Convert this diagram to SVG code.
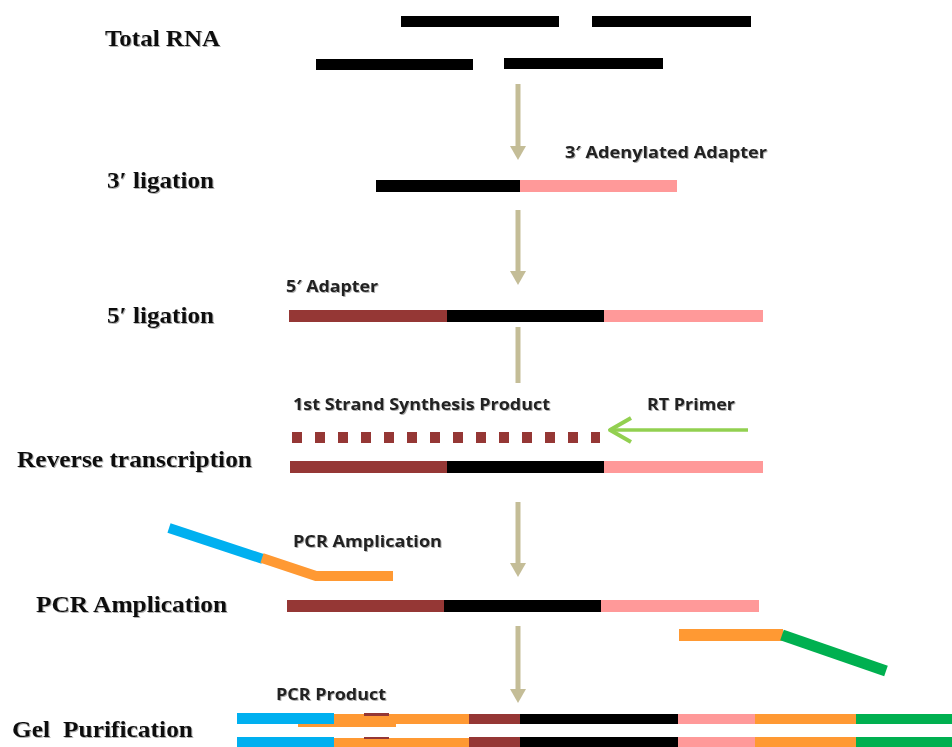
<svg xmlns="http://www.w3.org/2000/svg" width="952" height="747" viewBox="0 0 952 747">
<style>
.lbl{font-family:"Liberation Serif","Times New Roman",serif;font-weight:bold;font-size:23px;fill:#111;filter:url(#sh)}
.sm{font-family:"Open Sans","Liberation Sans",Arial,sans-serif;font-weight:bold;font-size:15.5px;fill:#222;filter:url(#sh)}
.k{fill:#000}.p{fill:#FF9999}.b{fill:#953735}.o{fill:#FF9933}.c{fill:#00B0F0}.g{fill:#00B050}
.arr{stroke:#C4BD97;stroke-width:5;fill:none}
</style>
<defs>
<filter id="sh" x="-5%" y="-20%" width="110%" height="150%">
<feDropShadow dx="1" dy="1" stdDeviation="0.7" flood-color="#555" flood-opacity="0.45"/>
</filter>
<marker id="ah" markerUnits="userSpaceOnUse" markerWidth="14" markerHeight="16" refX="0" refY="8" orient="auto" viewBox="0 0 14 16">
<path d="M0,0 L14,8 L0,16 z" fill="#C4BD97"/>
</marker>
</defs>
<rect width="952" height="747" fill="#fff"/>

<g id="connectors">
<line class="arr" x1="518" y1="84" x2="518" y2="146" marker-end="url(#ah)"/>
<line class="arr" x1="518" y1="210" x2="518" y2="271" marker-end="url(#ah)"/>
<line class="arr" x1="518" y1="327" x2="518" y2="383"/>
<line class="arr" x1="518" y1="502" x2="518" y2="563" marker-end="url(#ah)"/>
<line class="arr" x1="518" y1="626" x2="518" y2="689" marker-end="url(#ah)"/>
</g>

<g id="total-rna">
<text class="lbl" x="105" y="46" textLength="115" lengthAdjust="spacingAndGlyphs">Total RNA</text>
<rect class="k" x="401" y="16" width="158" height="11"/>
<rect class="k" x="592" y="16" width="159" height="11"/>
<rect class="k" x="316" y="59" width="157" height="11"/>
<rect class="k" x="504" y="58" width="159" height="11"/>
</g>

<g id="ligation-3">
<text class="lbl" x="107" y="188" textLength="107" lengthAdjust="spacingAndGlyphs">3′ ligation</text>
<text class="sm" x="565" y="158" textLength="202" lengthAdjust="spacingAndGlyphs">3′ Adenylated Adapter</text>
<rect class="k" x="376" y="180" width="144" height="12"/>
<rect class="p" x="520" y="180" width="157" height="12"/>
</g>

<g id="ligation-5">
<text class="lbl" x="107" y="323" textLength="107" lengthAdjust="spacingAndGlyphs">5′ ligation</text>
<text class="sm" x="286" y="292" textLength="92" lengthAdjust="spacingAndGlyphs">5′ Adapter</text>
<rect class="b" x="289" y="310" width="158" height="12"/>
<rect class="k" x="447" y="310" width="157" height="12"/>
<rect class="p" x="604" y="310" width="159" height="12"/>
</g>

<g id="reverse-transcription">
<text class="lbl" x="17" y="467" textLength="235" lengthAdjust="spacingAndGlyphs">Reverse transcription</text>
<text class="sm" x="293" y="410" textLength="257" lengthAdjust="spacingAndGlyphs">1st Strand Synthesis Product</text>
<text class="sm" x="647" y="410" textLength="88" lengthAdjust="spacingAndGlyphs">RT Primer</text>
<line x1="292" y1="437.5" x2="600" y2="437.5" stroke="#953735" stroke-width="11" stroke-dasharray="10 13"/>
<line x1="611" y1="430" x2="748" y2="430" stroke="#92D050" stroke-width="3.5"/>
<polyline points="631,418 610,430 631,442" fill="none" stroke="#92D050" stroke-width="4" stroke-linejoin="round"/>
<rect class="b" x="290" y="461" width="157" height="12"/>
<rect class="k" x="447" y="461" width="157" height="12"/>
<rect class="p" x="604" y="461" width="159" height="12"/>
</g>

<g id="pcr-amplication">
<text class="lbl" x="36" y="612" textLength="191" lengthAdjust="spacingAndGlyphs">PCR Amplication</text>
<text class="sm" x="293" y="547" textLength="149" lengthAdjust="spacingAndGlyphs">PCR Amplication</text>
<line x1="169" y1="528" x2="263" y2="559" stroke="#00B0F0" stroke-width="10"/>
<polyline points="262,558 316,576 393,576" fill="none" stroke="#FF9933" stroke-width="10"/>
<rect class="b" x="287" y="600" width="157" height="12"/>
<rect class="k" x="444" y="600" width="157" height="12"/>
<rect class="p" x="601" y="600" width="158" height="12"/>
<rect class="o" x="679" y="629" width="104" height="12"/>
<line x1="782" y1="635" x2="886" y2="671" stroke="#00B050" stroke-width="11"/>
</g>

<g id="gel-purification">
<text class="lbl" x="12" y="737" textLength="38" lengthAdjust="spacingAndGlyphs">Gel</text>
<text class="lbl" x="63" y="737" textLength="130" lengthAdjust="spacingAndGlyphs">Purification</text>
<text class="sm" x="276" y="700" textLength="110" lengthAdjust="spacingAndGlyphs">PCR Product</text>
<rect class="o" x="298" y="716" width="98" height="11"/>
<rect class="c" x="237" y="713" width="97" height="11"/>
<rect class="o" x="334" y="714" width="135" height="10"/>
<rect class="b" x="364" y="713" width="25" height="3"/>
<rect class="b" x="469" y="714" width="51" height="10"/>
<rect class="k" x="520" y="714" width="158" height="10"/>
<rect class="p" x="678" y="714" width="77" height="10"/>
<rect class="o" x="755" y="714" width="101" height="10"/>
<rect class="g" x="856" y="714" width="96" height="10"/>
<rect class="c" x="237" y="737" width="97" height="10"/>
<rect class="o" x="334" y="738" width="135" height="9"/>
<rect class="b" x="364" y="737" width="25" height="2"/>
<rect class="b" x="469" y="737" width="51" height="10"/>
<rect class="k" x="520" y="737" width="158" height="10"/>
<rect class="p" x="678" y="737" width="77" height="10"/>
<rect class="o" x="755" y="737" width="101" height="10"/>
<rect class="g" x="856" y="737" width="96" height="10"/>
</g>
</svg>
